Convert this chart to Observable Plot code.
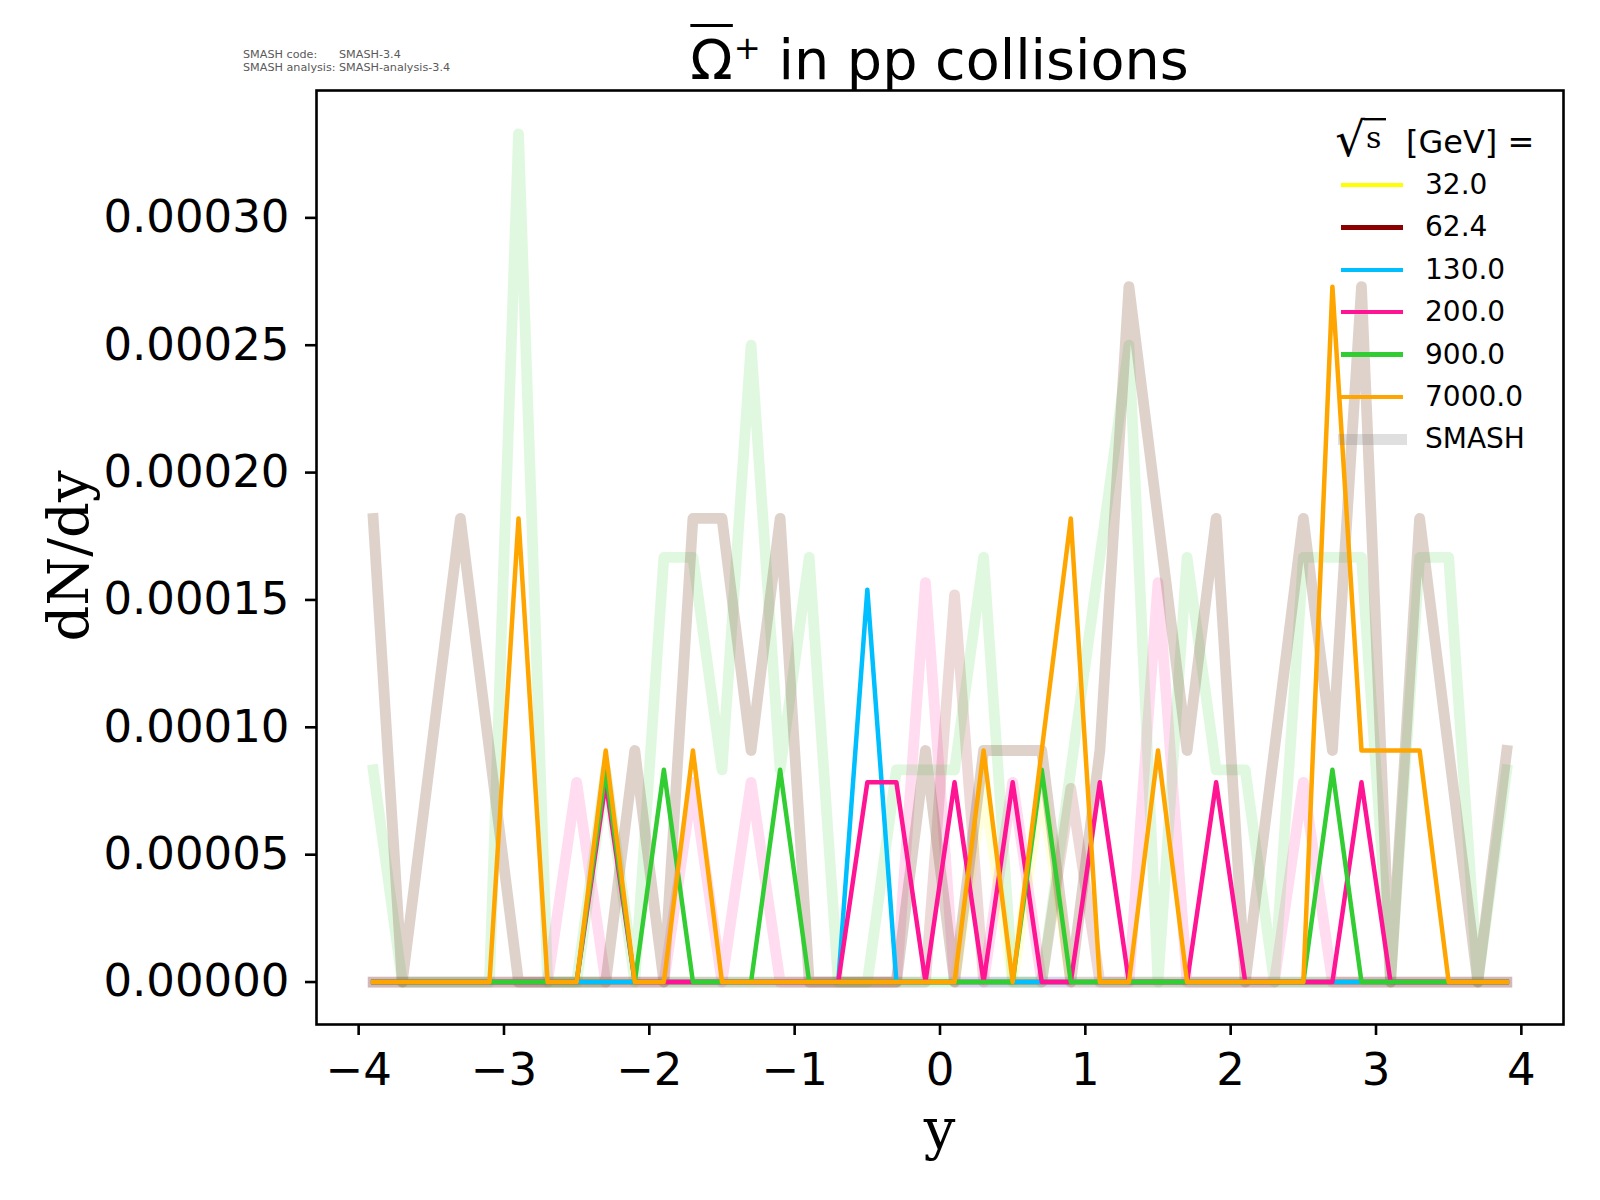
<!DOCTYPE html>
<html><head><meta charset="utf-8">
<script src="https://cdn.jsdelivr.net/npm/d3@7"></script>
<script src="https://cdn.jsdelivr.net/npm/@observablehq/plot@0.6"></script>
<style>
html,body{margin:0;padding:0;background:#fff;overflow:hidden;}
#fig{position:relative;width:1600px;height:1200px;font-family:"DejaVu Sans";color:#000;}
.ov{position:absolute;white-space:nowrap;line-height:1;}
</style></head><body>
<div id="fig"></div>
<script>
// ---- data (dN/dy vs rapidity y) ----
const rapidity = [-3.9,-3.7,-3.5,-3.3,-3.1,-2.9,-2.7,-2.5,-2.3,-2.1,-1.9,-1.7,-1.5,-1.3,-1.1,-0.9,-0.7,-0.5,-0.3,-0.1,
                  0.1,0.3,0.5,0.7,0.9,1.1,1.3,1.5,1.7,1.9,2.1,2.3,2.5,2.7,2.9,3.1,3.3,3.5,3.7,3.9];
const energies = ["32.0","62.4","130.0","200.0","900.0","7000.0"];
const energyColors = ["yellow","darkred","deepskyblue","deeppink","limegreen","orange"];

// thin lines, one per energy
const dndy32   = [0,0,0,0,0,0,0,0,0,0, 0,0,0,0,0,0,0,0,0,0, 0,0,0,0,0,0,0,0,0,0, 0,0,0,0,0,0,0,0,0,0];
const dndy62   = [0,0,0,0,0,0,0,0,0,0, 0,0,0,0,0,0,0,0,0,0, 0,0,0,0,0,0,0,0,0,0, 0,0,0,0,0,0,0,0,0,0];
const dndy130  = [0,0,0,0,0,0,0,0,0,0, 0,0,0,0,0,0,0,1.54e-4,0,0, 0,0,0,0,0,0,0,0,0,0, 0,0,0,0,0,0,0,0,0,0];
const dndy200  = [0,0,0,0,0,0,0,0,7.84e-5,0, 0,0,0,0,0,0,0,7.84e-5,7.84e-5,0,
                  7.84e-5,0,7.84e-5,0,0,7.84e-5,0,0,0,7.84e-5, 0,0,0,0,7.84e-5,0,0,0,0,0];
const dndy900  = [0,0,0,0,0,0,0,0,8.33e-5,0, 8.33e-5,0,0,0,8.33e-5,0,0,0,0,0,
                  0,0,0,8.33e-5,0,0,0,0,0,0, 0,0,0,8.33e-5,0,0,0,0,0,0];
const dndy7000 = [0,0,0,0,0,1.82e-4,0,0,9.09e-5,0, 0,9.09e-5,0,0,0,0,0,0,0,0,
                  0,9.09e-5,0,9.09e-5,1.82e-4,0,0,9.09e-5,0,0, 0,0,0,2.73e-4,9.09e-5,9.09e-5,9.09e-5,0,0,0];

// thick translucent lines (SMASH)
const smashYellow = [0,0,0,0,0,0,0,0,0,0, 0,0,0,0,0,0,0,0,0,0, 0,7.7e-5,0,7.7e-5,0,0,0,0,0,0, 0,0,0,0,0,0,0,0,0,0];
const smashMauve  = [0,0,0,0,0,0,0,0,0,0, 0,0,0,0,0,0,0,0,0,0, 1.52e-4,0,0,0,7.6e-5,0,0,0,0,0, 0,0,0,0,0,0,0,0,0,0];
const smashBlue   = [0,0,0,0,0,0,0,0,0,0, 0,0,0,0,0,0,0,0,0,0, 0,0,0,0,0,0,0,0,0,0, 0,0,0,0,0,0,0,0,0,0];
const smashPink   = [0,0,0,0,0,0,0,7.84e-5,0,0, 0,7.84e-5,0,7.84e-5,0,0,0,0,0,1.568e-4,
                     0,0,7.84e-5,0,0,0,0,1.568e-4,0,0, 0,0,7.84e-5,0,0,0,0,0,0,0];
const smashGreen  = [8.33e-5,0,0,0,0,3.33e-4,0,0,8.33e-5,0, 1.667e-4,1.667e-4,8.33e-5,2.5e-4,8.33e-5,1.667e-4,0,0,8.33e-5,8.33e-5,
                     8.33e-5,1.667e-4,0,0,8.33e-5,1.667e-4,2.5e-4,0,1.667e-4,8.33e-5, 8.33e-5,0,1.667e-4,1.667e-4,1.667e-4,0,1.667e-4,1.667e-4,0,8.33e-5];
const smashBrown  = [1.82e-4,0,9.09e-5,1.82e-4,9.09e-5,0,0,0,0,9.09e-5, 0,1.82e-4,1.82e-4,9.09e-5,1.82e-4,0,0,0,0,9.09e-5,
                     0,9.09e-5,9.09e-5,9.09e-5,0,9.09e-5,2.73e-4,1.82e-4,9.09e-5,1.82e-4, 0,9.09e-5,1.82e-4,9.09e-5,2.73e-4,0,1.82e-4,9.09e-5,0,9.09e-5];

const xTicks = [-4,-3,-2,-1,0,1,2,3,4];
const yTicks = [0,0.00005,0.0001,0.00015,0.0002,0.00025,0.0003];
const legendLabels = ["32.0","62.4","130.0","200.0","900.0","7000.0","SMASH"];

// ---- build ----
const toRows = vals => rapidity.map((y,i)=>({y, v: vals[i]}));
const thick = [
  {vals: smashYellow, color:"yellow", op:0.15},
  {vals: smashMauve,  color:"darkred", op:0.15},
  {vals: smashBlue,   color:"deepskyblue", op:0.15},
  {vals: smashPink,   color:"deeppink", op:0.15},
  {vals: smashGreen,  color:"limegreen", op:0.15},
  {vals: smashBrown,  color:"#7b4b30", op:0.25}
];
const thin = [dndy32,dndy62,dndy130,dndy200,dndy900,dndy7000];

const marks = [];
for (const s of thick) {
  marks.push(Plot.line(toRows(s.vals), {x:"y", y:"v", stroke:s.color, strokeOpacity:s.op,
    strokeWidth:10.8, strokeLinejoin:"round", strokeLinecap:"square"}));
}
thin.forEach((vals,k)=>{
  marks.push(Plot.line(toRows(vals), {x:"y", y:"v", stroke:energyColors[k],
    strokeWidth:4.5, strokeLinejoin:"round", strokeLinecap:"square"}));
});
marks.push(Plot.axisX({ticks:xTicks, tickSize:11, tickPadding:18, fontSize:45, strokeWidth:2.6, label:null, tickFormat:d3.format("d")}));
marks.push(Plot.axisY({ticks:yTicks, tickSize:11, tickPadding:16, fontSize:45, strokeWidth:2.6, label:null, tickFormat:d3.format(".5f")}));
marks.push(Plot.frame({stroke:"black", strokeWidth:2.6}));

const chart = Plot.plot({
  width:1600, height:1200,
  marginLeft:316, marginRight:37, marginTop:90, marginBottom:176,
  x:{domain:[-4.29,4.29]},
  y:{domain:[-1.667e-5,3.5e-4]},
  style:{fontFamily:"DejaVu Sans", color:"black", background:"white", overflow:"visible"},
  marks
});
const fig = document.getElementById("fig");
fig.appendChild(chart);

function ov(html, css){ const d=document.createElement("div"); d.className="ov"; d.innerHTML=html; Object.assign(d.style, css); fig.appendChild(d); return d; }

// title
ov('<span style="text-decoration:overline;text-decoration-thickness:2.5px">Ω</span><span style="font-size:0.58em;position:relative;top:-0.62em;margin-left:1px">+</span> in pp collisions',
  {left:"539.5px", width:"800px", textAlign:"center", top:"32px", fontSize:"55.6px"});

// version note
ov('<table style="border-collapse:collapse;font-size:11.2px;color:#5a5a5a;line-height:13px"><tr><td style="padding:0;width:96px">SMASH code:</td><td style="padding:0">SMASH-3.4</td></tr><tr><td style="padding:0">SMASH analysis:</td><td style="padding:0">SMASH-analysis-3.4</td></tr></table>',
  {left:"243px", top:"48px"});

// axis labels
ov('dN/dy', {left:"69px", top:"556px", fontFamily:"DejaVu Serif", fontSize:"56px", transform:"translate(-50%,-50%) rotate(-90deg)"});
ov('y', {left:"839.5px", width:"200px", textAlign:"center", top:"1108px", fontFamily:"DejaVu Serif", fontSize:"56px", lineHeight:"0.78"});

// legend header: sqrt(s) [GeV] =
(function(){
  const ctx = document.createElement("canvas").getContext("2d");
  const fs = 60;
  ctx.font = fs + "px 'DejaVu Sans'";
  const m = ctx.measureText("√");
  const asc = m.actualBoundingBoxAscent, desc = m.actualBoundingBoxDescent;
  const inkH = asc + desc;
  const size = fs * 40 / inkH;          // radical ink 40px tall
  const k = size / fs;
  const baseline = 158 - desc * k;      // ink bottom at 158
  const top = baseline - asc * k;       // ink top
  const left = 1336 + (m.actualBoundingBoxLeft || 0) * k;
  const right = 1336 + m.actualBoundingBoxRight * k + (m.actualBoundingBoxLeft || 0) * k;
  const ns = "http://www.w3.org/2000/svg";
  const svg = document.createElementNS(ns, "svg");
  svg.setAttribute("width", 1600); svg.setAttribute("height", 1200);
  Object.assign(svg.style, {position:"absolute", left:"0px", top:"0px", pointerEvents:"none"});
  const t1 = document.createElementNS(ns, "text");
  t1.setAttribute("x", left); t1.setAttribute("y", baseline);
  t1.setAttribute("font-family", "DejaVu Sans"); t1.setAttribute("font-size", size);
  t1.textContent = "√"; svg.appendChild(t1);
  const ln = document.createElementNS(ns, "line");
  ln.setAttribute("x1", right - 2); ln.setAttribute("x2", 1386);
  ln.setAttribute("y1", top + 1.2); ln.setAttribute("y2", top + 1.2);
  ln.setAttribute("stroke", "#000"); ln.setAttribute("stroke-width", 2.4);
  svg.appendChild(ln);
  const t2 = document.createElementNS(ns, "text");
  t2.setAttribute("x", 1366); t2.setAttribute("y", 148);
  t2.setAttribute("font-family", "DejaVu Serif"); t2.setAttribute("font-size", 30);
  t2.textContent = "s"; svg.appendChild(t2);
  const t3 = document.createElementNS(ns, "text");
  t3.setAttribute("x", 1406); t3.setAttribute("y", 153);
  t3.setAttribute("font-family", "DejaVu Sans"); t3.setAttribute("font-size", 32);
  t3.textContent = "[GeV] ="; svg.appendChild(t3);
  fig.appendChild(svg);
})();

// legend rows
legendLabels.forEach((lab,i)=>{
  const cy = 185 + i*42.38;
  const isSmash = lab === "SMASH";
  const lw = isSmash ? 10.7 : 4.3;
  const sw = document.createElement("div");
  sw.className = "ov";
  Object.assign(sw.style, {left:(isSmash?1338:1341)+"px", width:(isSmash?69:62)+"px", top:(cy-lw/2)+"px", height:lw+"px",
    background: isSmash ? "rgba(128,128,128,0.25)" : energyColors[i]});
  fig.appendChild(sw);
  ov(lab, {left:"1425px", top:(cy-14)+"px", fontSize:"28px", lineHeight:"28px"});
});
</script>
</body></html>
